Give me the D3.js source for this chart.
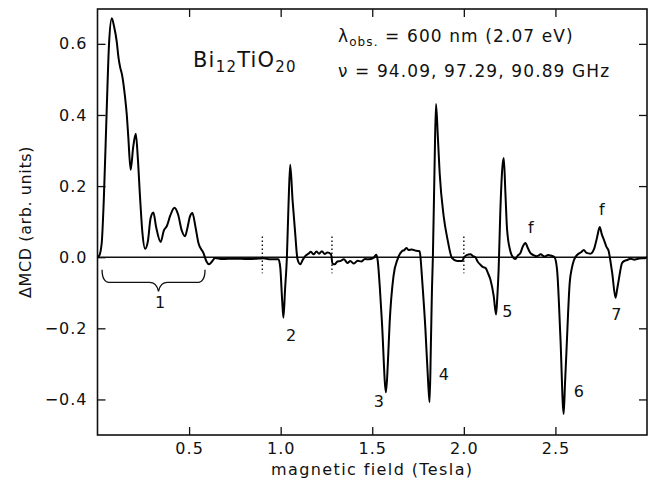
<!DOCTYPE html>
<html lang="en">
<head>
  <meta charset="UTF-8">
  <title>Bi12TiO20 MCD vs magnetic field</title>
  <style>
    body {
      margin: 0;
      padding: 0;
      background-color: #fff;
    }
    svg text {
      font-family: "DejaVu Sans", sans-serif;
      fill: #111;
    }
  </style>
  <script src="https://d3js.org/d3.v7.min.js"></script>
</head>
<body>
  <div id="chart"></div>

  <script>
    // measured trace (field in Tesla, MCD in arb. units)
    const fieldT = [
      0.000, 0.010, 0.023, 0.035, 0.050, 0.063, 0.078, 0.090, 0.105, 0.115,
      0.123, 0.135, 0.150, 0.160, 0.168, 0.181, 0.195, 0.209, 0.220, 0.232,
      0.245, 0.260, 0.275, 0.290, 0.305, 0.320, 0.345, 0.362, 0.378, 0.398,
      0.420, 0.440, 0.460, 0.478, 0.490, 0.505, 0.518, 0.535, 0.551, 0.578,
      0.595, 0.609, 0.625, 0.642, 0.680, 0.750, 0.820, 0.880, 0.906, 0.943,
      0.988, 0.998, 1.008, 1.015, 1.024, 1.034, 1.043, 1.052, 1.065, 1.079,
      1.092, 1.107, 1.120, 1.134, 1.152, 1.165, 1.180, 1.195, 1.210, 1.225,
      1.240, 1.255, 1.275, 1.283, 1.295, 1.310, 1.325, 1.345, 1.365, 1.380,
      1.400, 1.420, 1.440, 1.460, 1.480, 1.507, 1.522, 1.530, 1.542, 1.553,
      1.575, 1.585, 1.595, 1.616, 1.638, 1.662, 1.675, 1.686, 1.700, 1.715,
      1.740, 1.759, 1.765, 1.771, 1.790, 1.805, 1.813, 1.820, 1.826, 1.831,
      1.840, 1.848, 1.858, 1.868, 1.890, 1.911, 1.935, 1.963, 1.990, 2.000,
      2.015, 2.036, 2.050, 2.063, 2.075, 2.090, 2.105, 2.118, 2.132, 2.145,
      2.163, 2.176, 2.183, 2.190, 2.199, 2.210, 2.218, 2.227, 2.236, 2.254,
      2.268, 2.281, 2.295, 2.309, 2.322, 2.336, 2.350, 2.363, 2.380, 2.400,
      2.420, 2.440, 2.460, 2.473, 2.495, 2.509, 2.527, 2.545, 2.552, 2.560,
      2.578, 2.590, 2.600, 2.613, 2.627, 2.640, 2.655, 2.670, 2.691, 2.710,
      2.727, 2.742, 2.753, 2.764, 2.778, 2.791, 2.800, 2.810, 2.828, 2.837,
      2.846, 2.864, 2.878, 2.892, 2.910, 2.930, 2.946, 2.970, 2.992, 3.000
    ];
    const mcd = [
      0.000, 0.005, 0.040, 0.170, 0.410, 0.600, 0.672, 0.650, 0.606, 0.560,
      0.536, 0.510, 0.452, 0.400, 0.339, 0.246, 0.310, 0.347, 0.280, 0.171,
      0.070, 0.024, 0.045, 0.110, 0.126, 0.085, 0.043, 0.075, 0.087, 0.118,
      0.139, 0.120, 0.075, 0.059, 0.080, 0.115, 0.124, 0.085, 0.040, 0.012,
      -0.012, -0.020, -0.012, -0.002, -0.005, -0.004, -0.005, -0.004, -0.003, -0.006,
      -0.006, -0.030, -0.120, -0.170, -0.090, 0.000, 0.150, 0.260, 0.160, 0.069,
      -0.006, -0.020, -0.008, 0.003, 0.010, 0.015, 0.008, 0.016, 0.010, 0.017,
      0.009, 0.013, 0.008, -0.018, -0.020, -0.012, -0.011, -0.006, -0.016, -0.011,
      -0.018, -0.010, -0.012, -0.005, -0.006, -0.002, 0.007, -0.010, -0.090, -0.184,
      -0.380, -0.300, -0.184, -0.053, -0.006, 0.017, 0.020, 0.026, 0.020, 0.022,
      0.018, 0.017, -0.010, -0.053, -0.200, -0.350, -0.408, -0.250, -0.091, 0.000,
      0.250, 0.431, 0.340, 0.237, 0.115, 0.050, -0.002, -0.011, -0.011, -0.002,
      0.006, 0.008, 0.003, 0.000, -0.012, -0.021, -0.028, -0.030, -0.045, -0.063,
      -0.109, -0.161, -0.110, -0.035, 0.125, 0.250, 0.279, 0.180, 0.078, 0.017,
      0.000, -0.005, 0.005, 0.012, 0.030, 0.040, 0.025, 0.012, 0.006, 0.003,
      0.008, 0.002, 0.006, 0.005, 0.000, -0.035, -0.222, -0.441, -0.360, -0.268,
      -0.072, -0.030, -0.010, 0.003, 0.010, 0.014, 0.020, 0.012, 0.010, 0.022,
      0.055, 0.085, 0.065, 0.050, 0.030, 0.017, -0.010, -0.044, -0.114, -0.090,
      -0.063, -0.016, -0.010, -0.008, -0.004, -0.007, -0.005, -0.003, -0.002, 0.000
    ];

    const xTicks = [0.5, 1.0, 1.5, 2.0, 2.5];
    const yTicks = [-0.4, -0.2, 0.0, 0.2, 0.4, 0.6];

    // dotted markers where the scans were joined
    const joinFields = [0.90, 1.28, 2.00];

    // peak labels
    const peakLabels = [
      { text: "1", x: 0.342, y: -0.144 },
      { text: "2", x: 1.057, y: -0.236 },
      { text: "3", x: 1.536, y: -0.421 },
      { text: "4", x: 1.891, y: -0.346 },
      { text: "5", x: 2.238, y: -0.169 },
      { text: "6", x: 2.628, y: -0.394 },
      { text: "7", x: 2.833, y: -0.178 },
      { text: "f", x: 2.366, y: 0.069 },
      { text: "f", x: 2.754, y: 0.120 }
    ];

    const W = 652, H = 484;
    const margin = { top: 9, right: 5, bottom: 49, left: 97.5 };
    const width = W - margin.left - margin.right;
    const height = H - margin.top - margin.bottom;

    const svg = d3.select("#chart")
      .append("svg")
      .attr("width", W)
      .attr("height", H)
      .append("g")
      .attr("transform", `translate(${margin.left},${margin.top})`);

    const x = d3.scaleLinear().domain([0, 3.0]).range([0, width]);
    const y = d3.scaleLinear().domain([-0.5, 0.698]).range([height, 0]);

    const fmt = d3.format(".1f");

    // axes with inward ticks
    svg.append("g")
      .attr("transform", `translate(0,${height})`)
      .call(d3.axisBottom(x).tickValues(xTicks).tickFormat(fmt).tickSize(-8).tickPadding(8));

    svg.append("g")
      .call(d3.axisTop(x).tickValues(xTicks).tickFormat("").tickSize(-8));

    svg.append("g")
      .call(d3.axisLeft(y).tickValues(yTicks).tickFormat(fmt).tickSize(-8).tickPadding(10));

    svg.append("g")
      .attr("transform", `translate(${width},0)`)
      .call(d3.axisRight(y).tickValues(yTicks).tickFormat("").tickSize(-8));

    svg.selectAll(".domain").remove();
    svg.selectAll(".tick line").attr("stroke", "#111").attr("stroke-width", 1.3);
    svg.selectAll(".tick text")
      .attr("font-size", "16px")
      .style("letter-spacing", "1px")
      .attr("fill", "#111");

    // frame
    svg.append("rect")
      .attr("x", 0)
      .attr("y", 0)
      .attr("width", width)
      .attr("height", height)
      .attr("fill", "none")
      .attr("stroke", "#111")
      .attr("stroke-width", 1.6);

    // zero line
    svg.append("line")
      .attr("x1", 0)
      .attr("x2", width)
      .attr("y1", y(0))
      .attr("y2", y(0))
      .attr("stroke", "#111")
      .attr("stroke-width", 1.4);

    // dotted join markers
    svg.selectAll(".join")
      .data(joinFields)
      .enter()
      .append("line")
      .attr("class", "join")
      .attr("x1", d => x(d))
      .attr("x2", d => x(d))
      .attr("y1", y(0.058))
      .attr("y2", y(-0.045))
      .attr("stroke", "#111")
      .attr("stroke-width", 1.4)
      .attr("stroke-dasharray", "1.5,2.5");

    // the trace
    const points = fieldT.map((f, i) => [f, mcd[i]]);
    const line = d3.line()
      .x(d => x(d[0]))
      .y(d => y(d[1]))
      .curve(d3.curveMonotoneX);

    svg.append("path")
      .datum(points)
      .attr("fill", "none")
      .attr("stroke", "#000")
      .attr("stroke-width", 2)
      .attr("stroke-linejoin", "round")
      .attr("d", line);

    // brace under group 1
    const bx0 = x(0.025), bx1 = x(0.587), bxm = x(0.333);
    const byTop = y(-0.035), byMid = y(-0.071), byTip = y(-0.096);
    const brace = d3.path();
    brace.moveTo(bx0, byTop);
    brace.quadraticCurveTo(bx0, byMid, bx0 + 8, byMid);
    brace.lineTo(bxm - 9, byMid);
    brace.quadraticCurveTo(bxm - 2, byMid, bxm, byTip);
    brace.quadraticCurveTo(bxm + 2, byMid, bxm + 9, byMid);
    brace.lineTo(bx1 - 8, byMid);
    brace.quadraticCurveTo(bx1, byMid, bx1, byTop);
    svg.append("path")
      .attr("d", brace.toString())
      .attr("fill", "none")
      .attr("stroke", "#111")
      .attr("stroke-width", 1.3);

    // peak labels
    svg.selectAll(".peak")
      .data(peakLabels)
      .enter()
      .append("text")
      .attr("class", "peak")
      .attr("x", d => x(d.x))
      .attr("y", d => y(d.y))
      .attr("text-anchor", "middle")
      .attr("font-size", "16px")
      .text(d => d.text);

    // axis titles
    svg.append("text")
      .attr("x", width / 2)
      .attr("y", height + 40)
      .attr("text-anchor", "middle")
      .attr("font-size", "16px")
      .style("letter-spacing", "1.4px")
      .text("magnetic field (Tesla)");

    svg.append("text")
      .attr("transform", `translate(${25 + 6 - margin.left},${222 - margin.top}) rotate(-90)`)
      .attr("text-anchor", "middle")
      .attr("font-size", "16px")
      .style("letter-spacing", "0.6px")
      .text("ΔMCD (arb. units)");

    // sample name
    const title = svg.append("text")
      .attr("x", 193 - margin.left)
      .attr("y", 67 - margin.top)
      .attr("font-size", "21px")
      .style("letter-spacing", "1.2px");
    title.append("tspan").text("Bi");
    title.append("tspan").attr("font-size", "15px").attr("dy", 5).text("12");
    title.append("tspan").attr("dy", -5).text("TiO");
    title.append("tspan").attr("font-size", "15px").attr("dy", 5).text("20");

    // conditions
    const cond1 = svg.append("text")
      .attr("x", 338 - margin.left)
      .attr("y", 42 - margin.top)
      .attr("font-size", "17px")
      .style("letter-spacing", "1.1px");
    cond1.append("tspan").text("λ");
    cond1.append("tspan").attr("font-size", "12px").attr("dy", 4).text("obs.");
    cond1.append("tspan").attr("dy", -4).text(" = 600 nm (2.07 eV)");

    svg.append("text")
      .attr("x", 338 - margin.left)
      .attr("y", 77 - margin.top)
      .attr("font-size", "17px")
      .style("letter-spacing", "1.1px")
      .text("ν = 94.09, 97.29, 90.89 GHz");
  </script>
</body>
</html>
